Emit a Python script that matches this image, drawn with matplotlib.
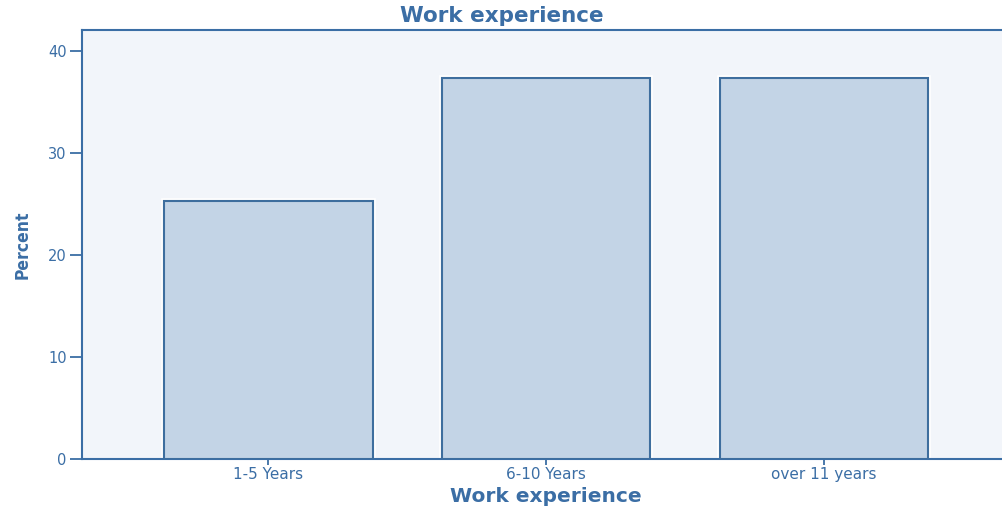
import matplotlib.pyplot as plt
import numpy as np

# data
categories = ['1-5 Years', '6-10 Years', 'over 11 years']
percent = [25.3, 37.35, 37.35]
yticks = [0, 10, 20, 30, 40]

blue = '#3b6ea5'
fig = plt.figure(figsize=(10.03, 5.08), dpi=100)
ax = fig.add_axes([82/1003, 49/508, 928.5/1003, 429/508])
ax.set_facecolor('#f2f5fa')

x = np.arange(len(categories))
# faint white halo round the bars, then the bars
ax.bar(x, percent, width=0.75, color='none', edgecolor='white', linewidth=4, zorder=2)
ax.bar(x, percent, width=0.75, color='#c3d4e6', edgecolor='#3e6e9e', linewidth=1.5, zorder=3)

ax.set_xlim(-0.67, 2.67)
ax.set_ylim(0, 42.06)
ax.set_xticks(x)
ax.set_xticklabels(categories, fontsize=11, color=blue)
ax.set_yticks(yticks)
ax.set_yticklabels([str(t) for t in yticks], fontsize=10.5, color=blue)
ax.tick_params(axis='y', length=9, width=1.3, color=blue, pad=2)
ax.tick_params(axis='x', length=4, width=1.3, color=blue, pad=2)

for s in ax.spines.values():
    s.set_color(blue)
    s.set_linewidth(1.5)

fig.text(0.5, 1 - 16/508, 'Work experience', fontsize=15.5, fontweight='bold',
         color=blue, ha='center', va='center')
ax.set_xlabel('Work experience', fontsize=14.5, fontweight='bold', color=blue, labelpad=3)
ax.set_ylabel('Percent', fontsize=12.5, fontweight='bold', color=blue, labelpad=12,
              family='DejaVu Sans', fontstretch='condensed')

fig.savefig('out.png', dpi=100)
